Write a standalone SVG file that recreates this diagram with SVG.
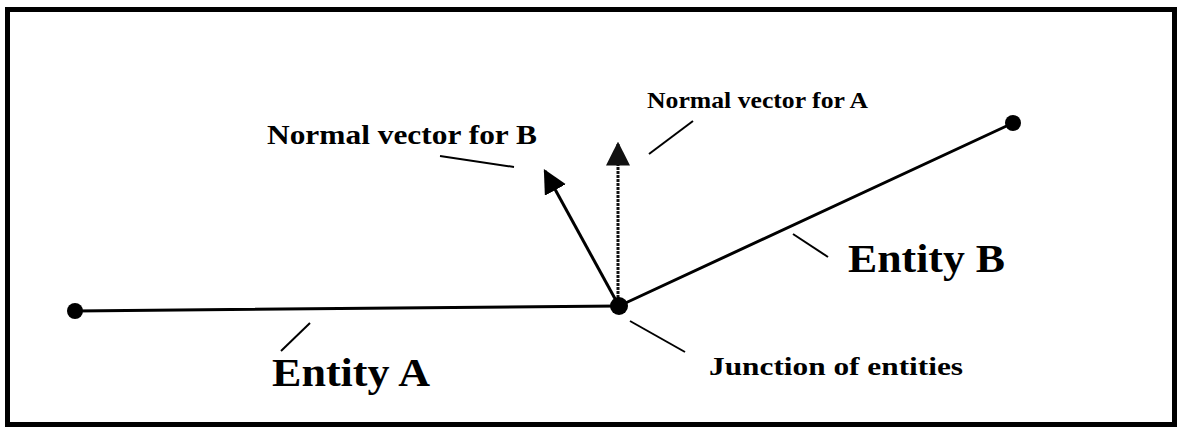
<svg xmlns="http://www.w3.org/2000/svg" width="1178" height="430" viewBox="0 0 1178 430">
<style>
.lbl{font-family:"Liberation Serif","Times New Roman",serif;font-weight:bold;fill:#000}
.ent{stroke:#000;stroke-width:3;fill:none;stroke-linecap:round}
.lead{stroke:#000;stroke-width:2;fill:none}
.dot{fill:#000}
</style>
<defs>
<marker id="ahB" viewBox="0 0 10 10" refX="9" refY="5" markerWidth="8" markerHeight="8" markerUnits="strokeWidth" orient="auto">
<path d="M0,0 L10,5 L0,10 z" fill="#000"/>
</marker>
<marker id="ahA" viewBox="0 0 10 10" refX="9" refY="5" markerWidth="8" markerHeight="8" markerUnits="strokeWidth" orient="auto">
<path d="M0,0 L10,5 L0,10 z" fill="#111"/>
</marker>
</defs>
<rect x="7.5" y="9.5" width="1167" height="415" fill="#fff" stroke="#000" stroke-width="5"/>
<g id="connectors">
<line class="ent" x1="75" y1="311" x2="619" y2="306"/>
<line class="ent" x1="619" y1="306" x2="1013" y2="123"/>
<line x1="619" y1="306" x2="545" y2="171" stroke="#000" stroke-width="3" marker-end="url(#ahB)"/>
<line x1="618" y1="306" x2="618" y2="144" stroke="#111" stroke-width="3" stroke-dasharray="3 1" marker-end="url(#ahA)"/>
<line class="lead" x1="649" y1="154" x2="693" y2="121"/>
<line class="lead" x1="440" y1="156" x2="514" y2="167"/>
<line class="lead" x1="793" y1="234" x2="828" y2="257"/>
<line class="lead" x1="310" y1="323" x2="281" y2="351"/>
<line class="lead" x1="630" y1="321" x2="685" y2="352"/>
</g>
<g id="node-left"><circle class="dot" cx="75" cy="311" r="8"/></g>
<g id="node-junction"><circle class="dot" cx="619" cy="306" r="9"/></g>
<g id="node-right"><circle class="dot" cx="1013" cy="123" r="8"/></g>
<g id="label-normal-b"><text class="lbl" x="267" y="144" font-size="27" textLength="270" lengthAdjust="spacingAndGlyphs">Normal vector for B</text></g>
<g id="label-normal-a"><text class="lbl" x="647" y="108" font-size="23" textLength="221" lengthAdjust="spacingAndGlyphs">Normal vector for A</text></g>
<g id="label-junction"><text class="lbl" x="709" y="375" font-size="25" textLength="254" lengthAdjust="spacingAndGlyphs">Junction of entities</text></g>
<g id="label-entity-a"><text class="lbl" x="272" y="386" font-size="39" textLength="158" lengthAdjust="spacingAndGlyphs">Entity A</text></g>
<g id="label-entity-b"><text class="lbl" x="848" y="272" font-size="40" textLength="157" lengthAdjust="spacingAndGlyphs">Entity B</text></g>
</svg>
